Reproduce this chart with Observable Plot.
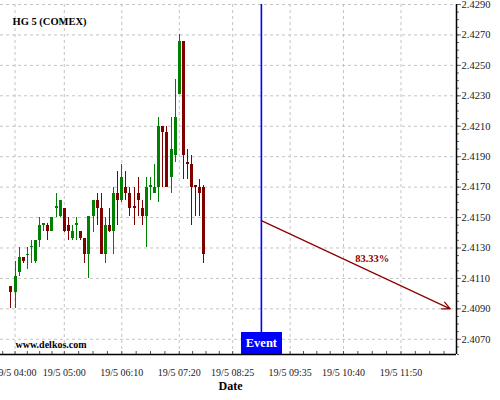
<!DOCTYPE html>
<html><head><meta charset="utf-8">
<script src="https://cdn.jsdelivr.net/npm/d3@7"></script>
<script src="https://cdn.jsdelivr.net/npm/@observablehq/plot@0.6"></script>
<style>html,body{margin:0;padding:0;background:#fff;} #chart svg{display:block;}</style>
</head><body><div id="chart"></div>
<script>
const title = "HG 5 (COMEX)";
const watermark = "www.delkos.com";
const xAxisLabel = "Date";

const candleTimes = ["03:55","04:00","04:05","04:10","04:15","04:20","04:25","04:30","04:35","04:40","04:45","04:50",
  "04:55","05:00","05:05","05:10","05:15","05:20","05:25","05:30","05:35","05:40","05:45","05:50",
  "05:55","06:00","06:05","06:10","06:15","06:20","06:25","06:30","06:35","06:40","06:45","06:50",
  "06:55","07:00","07:05","07:10","07:15","07:20","07:25","07:30","07:35","07:40","07:45","07:50"];
const opens = [2.4105,2.4101,2.4114,2.4124,2.4125,2.4130,2.4121,2.4135,2.4145,2.4145,2.4141,2.4156,
  2.4151,2.4156,2.4145,2.4136,2.4145,2.4141,2.4136,2.4126,2.4151,2.4161,2.4156,2.4126,
  2.4145,2.4141,2.4166,2.4161,2.4170,2.4166,2.4157,2.4166,2.4156,2.4151,2.4170,2.4166,
  2.4170,2.4210,2.4206,2.4176,2.4191,2.4231,2.4266,2.4186,2.4185,2.4171,2.4170,2.4170];
const highs = [2.4105,2.4121,2.4130,2.4124,2.4130,2.4135,2.4135,2.4150,2.4146,2.4146,2.4150,2.4166,
  2.4161,2.4156,2.4150,2.4145,2.4150,2.4141,2.4136,2.4151,2.4161,2.4166,2.4166,2.4150,
  2.4156,2.4170,2.4180,2.4185,2.4180,2.4170,2.4170,2.4176,2.4161,2.4176,2.4176,2.4185,
  2.4216,2.4210,2.4210,2.4216,2.4241,2.4270,2.4266,2.4195,2.4191,2.4171,2.4175,2.4171];
const lows = [2.4090,2.4090,2.4111,2.4120,2.4116,2.4120,2.4120,2.4130,2.4141,2.4135,2.4141,2.4150,
  2.4150,2.4140,2.4135,2.4135,2.4135,2.4135,2.4120,2.4110,2.4140,2.4145,2.4126,2.4120,
  2.4140,2.4126,2.4145,2.4160,2.4161,2.4151,2.4145,2.4151,2.4145,2.4130,2.4161,2.4166,
  2.4160,2.4170,2.4170,2.4166,2.4186,2.4231,2.4175,2.4175,2.4145,2.4151,2.4151,2.4120];
const closes = [2.4101,2.4111,2.4124,2.4121,2.4126,2.4131,2.4135,2.4145,2.4146,2.4141,2.4150,2.4157,
  2.4161,2.4141,2.4141,2.4141,2.4146,2.4136,2.4126,2.4151,2.4161,2.4156,2.4126,2.4145,
  2.4141,2.4166,2.4161,2.4176,2.4166,2.4156,2.4156,2.4161,2.4151,2.4170,2.4171,2.4170,
  2.4210,2.4206,2.4170,2.4195,2.4216,2.4266,2.4191,2.4185,2.4170,2.4170,2.4166,2.4126];

const xTickTimes = ["04:00","05:00","06:10","07:20","08:25","09:35","10:40","11:50"];
const xTickLabels = ["19/5 04:00","19/5 05:00","19/5 06:10","19/5 07:20","19/5 08:25","19/5 09:35","19/5 10:40","19/5 11:50"];
const yTicks = [2.4070,2.4090,2.4110,2.4130,2.4150,2.4170,2.4190,2.4210,2.4230,2.4250,2.4270,2.4290];
const xDomainTimes = ["03:42.3","12:57.6"];
const yDomain = [2.4060, 2.4290];

const eventTime = "09:00";
const eventLabel = "Event";
const forecastStartValue = 2.4148;
const forecastEndTime = "12:50";
const forecastEndValue = 2.4090;
const forecastLabel = "83.33%";
const forecastLabelTime = "11:15";
const forecastLabelValue = 2.4123;

const toMin = s => { const [h, m] = s.split(":").map(Number); return h * 60 + m; };
const candles = candleTimes.map((t, i) => ({t: toMin(t), o: opens[i], h: highs[i], l: lows[i], c: closes[i]}));
const col = d => d.c >= d.o ? "#008000" : "#800000";
const xTickMins = xTickTimes.map(toMin);
const xDomain = xDomainTimes.map(toMin);
// minor ticks: quarters of each major interval
const xMinor = [];
const steps = xTickMins.slice(1).map((v, i) => v - xTickMins[i]);
const ext = [xTickMins[0] - steps[0], ...xTickMins, xTickMins[xTickMins.length - 1] + steps[steps.length - 1]];
for (let i = 0; i < ext.length - 1; i++) for (let k = 0; k < 4; k++) {
  const v = ext[i] + (ext[i + 1] - ext[i]) * k / 4;
  if (v >= xDomain[0] && v <= xDomain[1]) xMinor.push(v);
}
const yMinor = d3.range(yDomain[0], yDomain[1] + 1e-9, 0.0005);
const serif = "'Liberation Serif','Times New Roman',serif";
const ev = toMin(eventTime);

const chart = Plot.plot({
  width: 500, height: 400,
  marginLeft: 0, marginRight: 44, marginTop: 4, marginBottom: 46,
  style: {fontFamily: serif, fontSize: "10px", background: "#fff", color: "#000"},
  x: {type: "linear", domain: xDomain},
  y: {domain: yDomain},
  marks: [
    Plot.ruleY(yTicks, {stroke: "#c4c4c4", strokeDasharray: "3,3"}),
    Plot.ruleX(xTickMins, {stroke: "#c4c4c4", strokeDasharray: "3,3"}),
    Plot.ruleX(xMinor, {stroke: "#555", insetTop: 347}),
    Plot.axisX(xTickMins, {anchor: "bottom", tickSize: 0, tickPadding: 14,
      tickFormat: d => xTickLabels[xTickMins.indexOf(d)], fontSize: 10, fill: "#222"}),
    Plot.axisY(yMinor, {anchor: "right", tickSize: 2, tickFormat: () => "", stroke: "#666"}),
    Plot.axisY(yTicks, {anchor: "right", tickSize: 4, tickPadding: 1, stroke: "#666",
      tickFormat: d => d.toFixed(4), fontSize: 10.5, fill: "#222"}),
    Plot.ruleX(candles, {x: "t", y1: "l", y2: "h", stroke: col, strokeWidth: 1, shapeRendering: "crispEdges"}),
    Plot.ruleX(candles, {x: "t", y1: "o", y2: "c", stroke: col, strokeWidth: 3, shapeRendering: "crispEdges"}),
    Plot.ruleX([ev], {stroke: "#0000ff", strokeWidth: 1.6}),
    Plot.ruleX([ev], {stroke: "#0000ff", strokeWidth: 41, insetTop: 328, shapeRendering: "crispEdges"}),
    Plot.text([{t: ev, label: eventLabel}], {x: "t", text: "label", frameAnchor: "bottom", dy: -8,
      fill: "#fff", fontWeight: "bold", fontSize: 12.5}),
    Plot.arrow([{x1: ev, y1: forecastStartValue, x2: toMin(forecastEndTime), y2: forecastEndValue}],
      {x1: "x1", y1: "y1", x2: "x2", y2: "y2", stroke: "#8b0000", strokeWidth: 1.2, headLength: 11, headAngle: 50}),
    Plot.text([{t: toMin(forecastLabelTime), v: forecastLabelValue, label: forecastLabel}],
      {x: "t", y: "v", text: "label", fill: "#8b0000", fontWeight: "bold", fontSize: 10.5}),
    Plot.ruleY([yDomain[0]], {stroke: "#000", strokeWidth: 1.5}),
    Plot.ruleX([xDomain[1]], {stroke: "#000", strokeWidth: 1.5}),
    Plot.text([title], {text: d => d, frameAnchor: "top-left", dx: 12, dy: 13, textAnchor: "start",
      fontWeight: "bold", fontSize: 10.5, fill: "#000"}),
    Plot.text([watermark], {text: d => d, frameAnchor: "bottom-left", dx: 15, dy: -6.5, textAnchor: "start",
      fontWeight: "bold", fontSize: 10, fill: "#000"}),
    Plot.text([xAxisLabel], {text: d => d, frameAnchor: "bottom", dx: 2, dy: 35,
      fontWeight: "bold", fontSize: 12, fill: "#000"})
  ]
});
document.getElementById("chart").appendChild(chart);
</script>
</body></html>
